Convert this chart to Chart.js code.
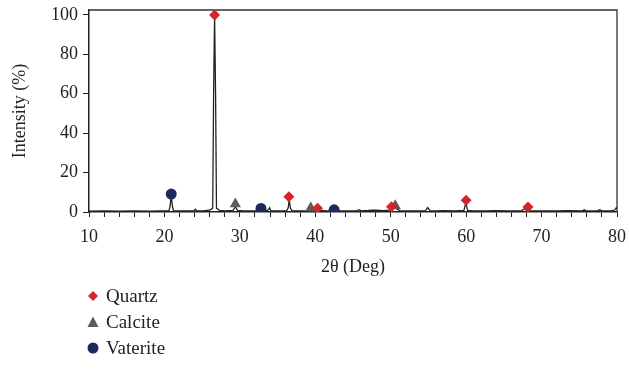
<!DOCTYPE html>
<html>
<head>
<meta charset="utf-8">
<script src="https://cdn.jsdelivr.net/npm/chart.js@4.4.1/dist/chart.umd.min.js"></script>
<style>
  html, body { margin: 0; padding: 0; background: #fff; }
  #wrap { position: relative; width: 629px; height: 379px; }
  #legend { position: absolute; left: 86px; top: 283px; font-family: "Liberation Serif", "DejaVu Serif", serif; font-size: 19px; color: #222; }
  .row { height: 26px; display: flex; align-items: center; }
  .row svg { width: 14px; height: 14px; margin-right: 6px; }
</style>
</head>
<body>
<div id="wrap">
  <canvas id="c" width="629" height="379"></canvas>
  <div id="legend"></div>
</div>
<script>
// ---- data ----
const twoTheta = [10, 12, 14, 16, 18, 19.5, 20.6, 20.75, 20.9, 21.05, 21.2, 22, 23, 23.9, 24.1, 24.3, 25, 26.0, 26.4, 26.52, 26.65, 26.78, 26.9, 27.3, 28, 29.1, 29.3, 29.4, 29.5, 29.7, 30.5, 31.5, 32.5, 32.7, 32.85, 33.0, 33.6, 33.8, 33.95, 34.1, 35, 36.2, 36.4, 36.55, 36.7, 36.9, 38, 39.2, 39.4, 39.6, 40.1, 40.3, 40.5, 41.5, 42.3, 42.45, 42.6, 43.5, 45.5, 45.8, 46.1, 47, 47.6, 48.1, 49, 49.9, 50.1, 50.3, 50.55, 50.8, 51.2, 52.5, 54.6, 54.9, 55.2, 56, 57, 58.5, 59.7, 59.95, 60.2, 61, 62.5, 64, 65.5, 67.4, 67.7, 68.0, 68.15, 68.3, 68.6, 70, 72, 73.5, 75.4, 75.65, 75.9, 77.4, 77.7, 78, 79.3, 79.7, 79.9, 80];
const intensity = [0.4, 0.5, 0.4, 0.5, 0.4, 0.5, 0.5, 3, 8.5, 3, 0.6, 0.5, 0.6, 0.6, 1.4, 0.6, 0.6, 0.9, 2, 60, 100, 60, 2, 0.8, 0.6, 0.8, 2, 3, 2, 0.8, 0.6, 0.6, 0.7, 1.2, 1.6, 0.8, 0.6, 1.2, 2.2, 0.7, 0.6, 0.7, 2, 6, 2, 0.7, 0.6, 0.7, 1.6, 0.7, 0.8, 1.8, 0.8, 0.6, 0.7, 1.3, 0.7, 0.6, 0.6, 1.2, 0.6, 0.8, 1.0, 0.9, 0.7, 1.0, 2.5, 2.0, 3.5, 1.5, 0.7, 0.6, 0.7, 2.2, 0.7, 0.6, 0.7, 0.6, 0.8, 4.5, 0.8, 0.6, 0.6, 0.7, 0.6, 0.7, 1.5, 0.9, 1.6, 0.8, 0.6, 0.6, 0.6, 0.7, 0.6, 1.1, 0.6, 0.6, 1.1, 0.6, 0.7, 1.0, 2.2, 1.5];

const quartzX = [26.65, 36.5, 40.3, 50.1, 60.0, 68.2];
const quartzY = [100, 7.8, 1.9, 2.7, 5.9, 2.5];
const calciteX = [29.4, 39.4, 50.6];
const calciteY = [4.0, 2.0, 3.2];
const vateriteX = [20.9, 32.8, 42.5];
const vateriteY = [9.1, 1.8, 1.1];

const yTicks = [0, 20, 40, 60, 80, 100];
const xLabelled = [10, 20, 30, 40, 50, 60, 70, 80];
const seriesNames = ['Quartz', 'Calcite', 'Vaterite'];

// ---- build ----
const pts = (xs, ys) => xs.map((x, i) => ({ x: x, y: ys[i] }));
const FONT = '"Liberation Serif", "DejaVu Serif", serif';
const colors = { Quartz: '#d3262c', Calcite: '#5c5c5c', Vaterite: '#1e2a5c' };
const styles = { Quartz: 'rectRot', Calcite: 'triangle', Vaterite: 'circle' };
const radii = { Quartz: 5.5, Calcite: 6.5, Vaterite: 5.5 };

const frame = {
  id: 'frame',
  beforeDatasetsDraw(chart) {
    const a = chart.chartArea, ctx = chart.ctx;
    ctx.save();
    ctx.strokeStyle = '#333';
    ctx.lineWidth = 1.3;
    ctx.beginPath();
    ctx.moveTo(a.left, a.top);
    ctx.lineTo(a.right, a.top);
    ctx.lineTo(a.right, a.bottom);
    ctx.stroke();
    ctx.restore();
  }
};

const markerSets = [
  { name: 'Quartz', data: pts(quartzX, quartzY) },
  { name: 'Calcite', data: pts(calciteX, calciteY) },
  { name: 'Vaterite', data: pts(vateriteX, vateriteY) }
].map(s => ({
  type: 'scatter',
  label: s.name,
  data: s.data,
  pointStyle: styles[s.name],
  pointRadius: radii[s.name],
  backgroundColor: colors[s.name],
  borderColor: colors[s.name],
  borderWidth: 0,
  order: 0
}));

new Chart(document.getElementById('c'), {
  type: 'scatter',
  data: {
    datasets: [
      ...markerSets,
      {
        type: 'line',
        label: 'Pattern',
        data: pts(twoTheta, intensity),
        borderColor: '#222',
        borderWidth: 1.3,
        pointRadius: 0,
        tension: 0,
        fill: false,
        order: 5
      }
    ]
  },
  options: {
    responsive: false,
    animation: false,
    layout: { padding: { top: 10, right: 12, bottom: 100, left: 0 } },
    plugins: { legend: { display: false }, tooltip: { enabled: false } },
    scales: {
      x: {
        type: 'linear',
        min: 10, max: 80,
        afterFit(scale) { scale.height = 67; scale.paddingRight = 0; scale.paddingLeft = 0; },
        ticks: {
          stepSize: 2, autoSkip: false, maxRotation: 0,
          color: '#222', padding: 9,
          font: { family: FONT, size: 18 },
          callback: v => xLabelled.includes(v) ? String(v) : ''
        },
        grid: { drawOnChartArea: false, drawTicks: true, tickLength: 5, color: '#222', lineWidth: 1 },
        border: { display: true, color: '#222', width: 1.5 },
        title: { display: true, text: '2θ (Deg)', color: '#222', font: { family: FONT, size: 18 }, padding: { top: 4, bottom: 1 } }
      },
      y: {
        min: 0, max: 102.5,
        afterFit(scale) { scale.width = 89; scale.paddingTop = 0; scale.paddingBottom = 0; },
        afterBuildTicks(scale) { scale.ticks = yTicks.map(v => ({ value: v })); },
        ticks: { color: '#222', padding: 5, font: { family: FONT, size: 18 } },
        grid: { drawOnChartArea: false, drawTicks: true, tickLength: 6, color: '#222', lineWidth: 1 },
        border: { display: true, color: '#222', width: 1.5 },
        title: { display: true, text: 'Intensity (%)', color: '#222', font: { family: FONT, size: 18 }, padding: { top: 9, bottom: 0 } }
      }
    }
  },
  plugins: [frame]
});

// ---- legend ----
const legend = document.getElementById('legend');
const shapeSvg = {
  Quartz: c => `<svg viewBox="0 0 14 14"><polygon points="7,2 12,7 7,12 2,7" fill="${c}"/></svg>`,
  Calcite: c => `<svg viewBox="0 0 14 14"><polygon points="7,1.5 12.5,12 1.5,12" fill="${c}"/></svg>`,
  Vaterite: c => `<svg viewBox="0 0 14 14"><circle cx="7" cy="7" r="5.5" fill="${c}"/></svg>`
};
seriesNames.forEach(n => {
  const row = document.createElement('div');
  row.className = 'row';
  row.innerHTML = shapeSvg[n](colors[n]) + '<span>' + n + '</span>';
  legend.appendChild(row);
});
</script>
</body>
</html>
